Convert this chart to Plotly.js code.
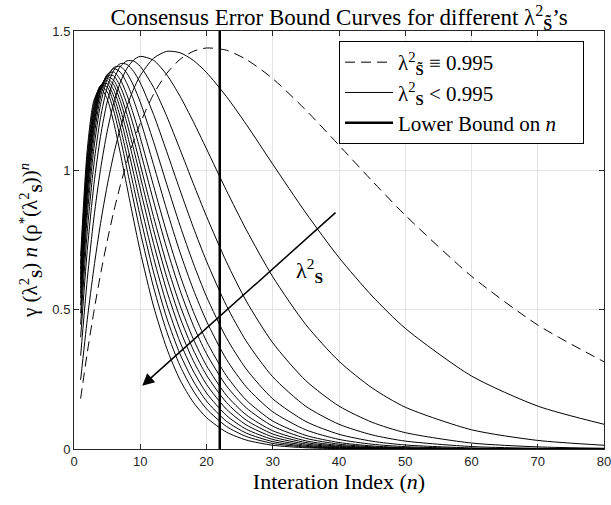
<!DOCTYPE html>
<html>
<head>
<meta charset="utf-8">
<script src="https://cdn.plot.ly/plotly-3.0.1.min.js"></script>
<style>html,body{margin:0;padding:0;background:#fff;}#chart{width:611px;height:505px;}</style>
</head>
<body>
<div id="chart"></div>
<script>
const nIdx = [1,2,3,4,5,6,7,8,9,10,12,14,16,18,20,23,26,30,35,40,45,50,60,70,80];

// Dashed curve (lambda^2 = 0.995)
const dashedVals = [0.181,0.345,0.493,0.626,0.745,0.852,0.947,1.031,1.105,1.169,1.273,1.348,1.398,1.427,1.439,1.431,1.398,1.329,1.216,1.090,0.962,0.839,0.620,0.445,0.313];

// Solid curves (lambda^2 < 0.995)
const curveS1  = [0.248,0.464,0.649,0.809,0.944,1.058,1.152,1.230,1.292,1.340,1.402,1.427,1.422,1.395,1.351,1.265,1.165,1.022,0.847,0.687,0.549,0.433,0.262,0.154,0.0887];
const curveS2  = [0.335,0.608,0.829,1.003,1.139,1.242,1.316,1.366,1.396,1.409,1.395,1.343,1.266,1.175,1.077,0.928,0.787,0.618,0.446,0.315,0.219,0.150,0.069,0.0308,0.0135];
const curveS3  = [0.401,0.712,0.948,1.122,1.245,1.326,1.373,1.393,1.392,1.373,1.298,1.194,1.075,0.953,0.835,0.672,0.531,0.381,0.245,0.154,0.0958,0.0587,0.0214,0.0076,0.0026];
const curveS4  = [0.447,0.780,1.022,1.189,1.297,1.359,1.383,1.380,1.355,1.314,1.201,1.067,0.929,0.796,0.674,0.515,0.387,0.259,0.153,0.0887,0.0506,0.0284,0.0088,0.0026,0.0008];
const curveS5  = [0.487,0.837,1.078,1.236,1.327,1.369,1.373,1.348,1.303,1.245,1.103,0.950,0.802,0.667,0.547,0.399,0.287,0.180,0.0986,0.0528,0.0279,0.0145,0.0038,0.0010,0.0002];
const curveS6  = [0.516,0.876,1.116,1.263,1.340,1.365,1.352,1.311,1.252,1.181,1.021,0.858,0.706,0.573,0.459,0.322,0.223,0.1335,0.0686,0.0345,0.0171,0.0084,0.0020,0.0004,0.0001];
const curveS7  = [0.542,0.910,1.145,1.281,1.344,1.353,1.325,1.270,1.199,1.118,0.945,0.776,0.624,0.494,0.387,0.263,0.1755,0.1004,0.0487,0.0232,0.0108,0.0050,0.0010,0.0002,0.0000];
const curveS8  = [0.558,0.930,1.161,1.288,1.340,1.339,1.300,1.237,1.158,1.071,0.890,0.720,0.570,0.444,0.342,0.2268,0.1478,0.0819,0.0382,0.0174,0.0078,0.0035,0.0006,0.0001,0.0000];
const curveS9  = [0.577,0.952,1.178,1.295,1.336,1.323,1.273,1.201,1.114,1.021,0.834,0.663,0.516,0.395,0.299,0.1929,0.1224,0.0655,0.0292,0.0128,0.0055,0.0023,0.0004,0.0001,0.0000];
const curveS10 = [0.592,0.969,1.190,1.300,1.330,1.307,1.248,1.168,1.076,0.979,0.787,0.616,0.472,0.356,0.265,0.1672,0.1037,0.0538,0.0231,0.0097,0.0040,0.0016,0.0003,0,0];
const curveS11 = [0.608,0.988,1.203,1.302,1.322,1.288,1.220,1.132,1.034,0.933,0.738,0.568,0.428,0.317,0.232,0.143,0.0865,0.0434,0.0179,0.0072,0.0029,0.0011,0.0002,0,0];
const curveS12 = [0.626,1.007,1.215,1.304,1.311,1.266,1.189,1.093,0.989,0.884,0.687,0.519,0.384,0.280,0.201,0.1205,0.0710,0.0343,0.0135,0.0052,0.0020,0.0007,0.0001,0,0];
const curveS13 = [0.645,1.027,1.228,1.304,1.299,1.242,1.154,1.051,0.942,0.834,0.635,0.470,0.341,0.244,0.172,0.0999,0.0571,0.0266,0.0099,0.0036,0.0013,0.0005,0,0,0];
const curveS14 = [0.665,1.048,1.239,1.301,1.282,1.213,1.115,1.004,0.890,0.780,0.581,0.421,0.299,0.209,0.144,0.0812,0.0449,0.0200,0.0071,0.0025,0.0008,0.0003,0,0,0];
const curveS15 = [0.692,1.074,1.251,1.295,1.257,1.171,1.060,0.941,0.822,0.709,0.513,0.361,0.248,0.168,0.1127,0.0607,0.0321,0.0134,0.0044,0.0014,0.0005,0.0001,0,0,0];
const solidCurves = [curveS1,curveS2,curveS3,curveS4,curveS5,curveS6,curveS7,curveS8,curveS9,curveS10,curveS11,curveS12,curveS13,curveS14,curveS15];

// Lower bound on n (vertical line)
const lowerBoundN = 22;
const yRange = [0, 1.5];

// Arrow (tail -> head) and its label
const arrowTail = [39.7, 0.853];
const arrowHead = [10.3, 0.227];
const arrowLabelPos = [35.6, 0.642];

// Tick labels
const xTicks = [0,10,20,30,40,50,60,70,80];
const yTicks = [0,0.5,1,1.5];
const yTickText = ['0','0.5','1','1.5'];

const legendDashed = 'λ<sup>2</sup><sub><b>S̃</b></sub> ≡ 0.995';
const legendSolid = 'λ<sup>2</sup><sub><b>S</b></sub> < 0.995';
const legendBound = 'Lower Bound on <i>n</i>&nbsp;&nbsp;&nbsp;&nbsp;';

const serif = 'Liberation Serif, Times New Roman, serif';
const sans = 'Liberation Sans, Arial, sans-serif';
const axisColor = '#262626';

const traces = [];
traces.push({
  x: nIdx, y: dashedVals, type: 'scatter', mode: 'lines',
  line: {color: '#000', width: 1, dash: '10px,6px', shape: 'spline', smoothing: 0.7},
  name: legendDashed, showlegend: true, hoverinfo: 'skip'
});
solidCurves.forEach((c, i) => {
  traces.push({
    x: nIdx, y: c, type: 'scatter', mode: 'lines',
    line: {color: '#000', width: 1, shape: 'spline', smoothing: 0.7},
    name: legendSolid, showlegend: i === 0, hoverinfo: 'skip'
  });
});
traces.push({
  x: [lowerBoundN, lowerBoundN], y: yRange, type: 'scatter', mode: 'lines',
  line: {color: '#000', width: 2.5},
  name: legendBound, showlegend: true, hoverinfo: 'skip'
});

const layout = {
  width: 611, height: 505,
  margin: {l: 74, r: 7, t: 31, b: 56, pad: 0},
  paper_bgcolor: '#fff', plot_bgcolor: '#fff',
  showlegend: true,
  title: {
    text: 'Consensus Error Bound Curves for different λ<sup>2</sup><sub><b>S̃</b></sub>’s',
    font: {family: serif, size: 23, color: '#000'},
    x: 0.555, xanchor: 'center', y: 0.966, yanchor: 'middle', xref: 'container', yref: 'container'
  },
  xaxis: {
    range: [0, 80], tickvals: xTicks, ticktext: xTicks.map(String),
    showgrid: true, gridcolor: '#e3e3e3', gridwidth: 1, zeroline: false,
    showline: true, linecolor: axisColor, linewidth: 1, mirror: 'ticks',
    ticks: 'inside', ticklen: 5, tickcolor: axisColor, tickwidth: 1,
    ticklabeloverflow: 'allow',
    tickfont: {family: sans, size: 13, color: axisColor},
    title: {text: 'Interation Index (<i>n</i>)', font: {family: serif, size: 22, color: '#000'}, standoff: 5}
  },
  yaxis: {
    range: yRange, tickvals: yTicks, ticktext: yTickText,
    showgrid: true, gridcolor: '#e3e3e3', gridwidth: 1, zeroline: false,
    showline: true, linecolor: axisColor, linewidth: 1, mirror: 'ticks',
    ticks: 'inside', ticklen: 5, tickcolor: axisColor, tickwidth: 1,
    tickfont: {family: sans, size: 13, color: axisColor},
    title: {text: 'γ (λ<sup>2</sup><sub><b>S</b></sub>) <i>n</i> (ρ<sup>*</sup>(λ<sup>2</sup><sub><b>S</b></sub>))<sup><i>n</i></sup>', font: {family: serif, size: 21, color: '#000'}, standoff: 8}
  },
  legend: {
    x: 0.5, y: 0.976, xanchor: 'left', yanchor: 'top',
    bordercolor: '#000', borderwidth: 1, bgcolor: '#fff',
    font: {family: serif, size: 21, color: '#000'},
    tracegroupgap: 0, itemwidth: 48
  },
  annotations: [
    {
      x: arrowHead[0], y: arrowHead[1], ax: arrowTail[0], ay: arrowTail[1],
      xref: 'x', yref: 'y', axref: 'x', ayref: 'y',
      text: '', showarrow: true, arrowhead: 2, arrowsize: 1.6, arrowwidth: 1.5,
      arrowcolor: '#000', standoff: 0, startstandoff: 0
    },
    {
      x: arrowLabelPos[0], y: arrowLabelPos[1], xref: 'x', yref: 'y',
      text: 'λ<sup>2</sup><sub><b>S</b></sub>', showarrow: false,
      font: {family: serif, size: 22, color: '#000'}
    }
  ]
};

Plotly.newPlot('chart', traces, layout, {staticPlot: true, displayModeBar: false});
</script>
</body>
</html>
